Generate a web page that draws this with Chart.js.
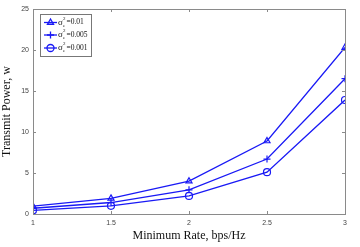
<!DOCTYPE html>
<html>
<head>
<meta charset="utf-8">
<script src="https://cdn.jsdelivr.net/npm/chart.js@4"></script>
<style>
  html, body { margin: 0; padding: 0; background: #fff; }
  #wrap { width: 360px; height: 247px; }
</style>
</head>
<body>
<div id="wrap"><canvas id="powerChart" width="360" height="247"></canvas></div>
<script>
// data
const rates = [1, 1.5, 2, 2.5, 3];
const power001 = [0.95, 1.9, 4.0, 8.9, 20.3];
const power0005 = [0.7, 1.4, 2.95, 6.7, 16.5];
const power0001 = [0.45, 1.0, 2.2, 5.1, 13.9];
const legendValues = ['0.01', '0.005', '0.001'];
const xTicks = [1, 1.5, 2, 2.5, 3];
const yTicks = [0, 5, 10, 15, 20, 25];

const blue = 'rgb(25,25,245)';
const axisGray = '#8a8a8a';

function toPoints(ys) {
    return rates.map((x, i) => ({ x: x, y: ys[i] }));
}

// box, inward ticks and legend (matlab look)
const framePlugin = {
    id: 'frame',
    afterDraw(chart) {
        const ctx = chart.ctx;
        const a = chart.chartArea;
        const sx = chart.scales.x, sy = chart.scales.y;
        ctx.save();
        ctx.strokeStyle = axisGray;
        ctx.lineWidth = 1;
        ctx.strokeRect(Math.round(a.left) + 0.5, Math.round(a.top) + 0.5,
            Math.round(a.right - a.left), Math.round(a.bottom - a.top));
        ctx.beginPath();
        xTicks.forEach(v => {
            const px = Math.round(sx.getPixelForValue(v)) + 0.5;
            ctx.moveTo(px, a.bottom); ctx.lineTo(px, a.bottom - 3);
            ctx.moveTo(px, a.top); ctx.lineTo(px, a.top + 3);
        });
        yTicks.forEach(v => {
            const py = Math.round(sy.getPixelForValue(v)) + 0.5;
            ctx.moveTo(a.left, py); ctx.lineTo(a.left + 3, py);
            ctx.moveTo(a.right, py); ctx.lineTo(a.right - 3, py);
        });
        ctx.stroke();

        // legend
        const lx = a.left + 7, ly = a.top + 5, lw = 51, lh = 42;
        ctx.fillStyle = '#fff';
        ctx.fillRect(lx, ly, lw, lh);
        ctx.strokeStyle = '#777';
        ctx.strokeRect(lx + 0.5, ly + 0.5, lw, lh);
        const rowsY = [ly + 8.5, ly + 21, ly + 34];
        chart.data.datasets.forEach((ds, i) => {
            const y = rowsY[i];
            ctx.strokeStyle = blue;
            ctx.lineWidth = 1.3;
            ctx.beginPath();
            ctx.moveTo(lx + 4, y); ctx.lineTo(lx + 17, y);
            ctx.stroke();
            ctx.fillStyle = 'rgba(0,0,0,0)';
            Chart.helpers.drawPoint(ctx, {
                pointStyle: ds.pointStyle, radius: 3.5, borderWidth: 1.3, rotation: 0
            }, lx + 10.5, y);
            ctx.fillStyle = '#111';
            ctx.textBaseline = 'middle';
            ctx.textAlign = 'left';
            ctx.font = '9px "Liberation Serif", serif';
            const tx = lx + 18;
            ctx.fillText('\u03c3', tx, y);
            ctx.font = '5px "Liberation Serif", serif';
            ctx.fillText('2', tx + 5, y - 4);
            ctx.fillText('e', tx + 5, y + 3);
            ctx.font = '7.5px "Liberation Serif", serif';
            ctx.fillText('=' + legendValues[i], tx + 8.5, y);
        });
        ctx.restore();
    }
};

function makeSet(label, ys, style) {
    return {
        label: label,
        data: toPoints(ys),
        borderColor: blue,
        backgroundColor: 'rgba(0,0,0,0)',
        borderWidth: 1.3,
        pointStyle: style,
        pointRadius: 3.5,
        pointBorderWidth: 1.2,
        pointBorderColor: blue,
        pointBackgroundColor: 'rgba(0,0,0,0)',
        tension: 0,
        fill: false
    };
}

const ctx = document.getElementById('powerChart').getContext('2d');
new Chart(ctx, {
    type: 'line',
    data: {
        datasets: [
            makeSet('\u03c3e\u00b2=0.01', power001, 'triangle'),
            makeSet('\u03c3e\u00b2=0.005', power0005, 'cross'),
            makeSet('\u03c3e\u00b2=0.001', power0001, 'circle')
        ]
    },
    options: {
        responsive: false,
        animation: false,
        layout: { padding: { top: 9, right: 15, left: 0, bottom: 0 } },
        plugins: {
            legend: { display: false },
            tooltip: { enabled: false }
        },
        scales: {
            x: {
                type: 'linear',
                min: 1,
                max: 3,
                afterFit(scale) { scale.height = 33; },
                afterBuildTicks(scale) { scale.ticks = xTicks.map(v => ({ value: v })); },
                grid: { display: false, drawTicks: false },
                border: { display: false },
                ticks: {
                    color: '#444',
                    font: { family: 'Liberation Sans, sans-serif', size: 7 },
                    padding: 5,
                    maxRotation: 0,
                    callback: v => String(v)
                },
                title: {
                    display: true,
                    text: 'Minimum Rate, bps/Hz',
                    color: '#111',
                    font: { family: '"Liberation Serif", serif', size: 12 },
                    padding: { top: 0, bottom: 4 }
                }
            },
            y: {
                min: 0,
                max: 25,
                afterFit(scale) { scale.width = 33; },
                afterBuildTicks(scale) { scale.ticks = yTicks.map(v => ({ value: v })); },
                grid: { display: false, drawTicks: false },
                border: { display: false },
                ticks: {
                    color: '#444',
                    font: { family: 'Liberation Sans, sans-serif', size: 7 },
                    padding: 4,
                    callback: v => String(v)
                },
                title: {
                    display: true,
                    text: 'Transmit Power, w',
                    color: '#111',
                    font: { family: '"Liberation Serif", serif', size: 12 },
                    padding: { top: 0, bottom: 2 }
                }
            }
        }
    },
    plugins: [framePlugin]
});
</script>
</body>
</html>
